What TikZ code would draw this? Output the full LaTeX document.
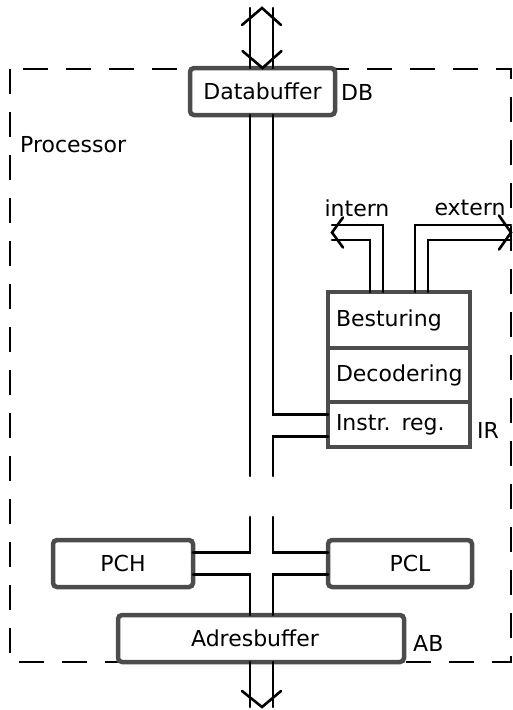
\documentclass[tikz,border=0pt]{standalone}
\usepackage{fontspec}
\setsansfont{DejaVu Sans}
\usetikzlibrary{calc, positioning}

\begin{document}
\begin{tikzpicture}[
    x=1pt, y=-1pt,
    font=\sffamily\fontsize{22}{26}\selectfont,
    wire/.style={line width=2.6pt, black, line cap=round},
    unit/.style={draw=black!70, line width=4.5pt, rounded corners=4pt, fill=white,
        inner sep=0pt, outer sep=0pt, minimum height=47pt},
    cell/.style={draw=black!70, line width=4.5pt, fill=white, inner xsep=8pt,
        inner ysep=0pt, outer sep=0pt, text width=126pt, align=left},
    frame/.style={line width=2.4pt, dash pattern=on 25pt off 18pt},
    tag/.style={anchor=west, inner sep=0pt},
]
\useasboundingbox (0,0) rectangle (512,710);

% --- processorgrens ---
\draw[frame] (10,69) rectangle (511,662);
\node[tag] (proc) at (20,145) {Processor};

% --- buffers en registers ---
\node[unit, minimum width=145pt] (db) at (262.5,91.5) {Databuffer};
\node[tag] (dbtag) at (341,92) {DB};

\node[cell, minimum height=56pt] (best) at (399,320) {Besturing};
\node[cell, minimum height=54pt, below=0pt of best] (dec) {Decodering};
\node[cell, minimum height=45pt, below=0pt of dec] (ir) {Instr. reg.};
\node[tag] (irtag) at (477,430) {IR};

\node[unit, minimum width=140pt] (pch) at (123,563.5) {PCH};
\node[unit, minimum width=144pt] (pcl) at (400,563.5) {\hspace*{20pt}PCL};

\node[unit, minimum width=286pt] (ab) at (261,638.5) {Adresbuffer\hspace*{12pt}};
\node[tag] (abtag) at (413,643) {AB};

% --- bus ---
\coordinate (bl) at (250,0);
\coordinate (br) at (273,0);
\coordinate (gapa) at (0,476);
\coordinate (gapb) at (0,517);
\coordinate (topend) at (262,8);
\coordinate (botend) at (262,707);

% databus naar buiten (twee richtingen)
\draw[wire] (bl |- topend) -- (db.north -| bl);
\draw[wire] (br |- topend) -- (db.north -| br);
\draw[wire] ($(topend)+(-20,17)$) -- (topend) -- ($(topend)+(19,17)$);
\draw[wire] ($(db.north)+(-20,-17)$) -- (db.north) -- ($(db.north)+(19,-17)$);

% intern bus met aftakking naar IR
\draw[wire] (db.south -| bl) -- (bl |- gapa);
\draw[wire] (db.south -| br) |- ($(ir.west)+(0,-10)$);
\draw[wire] ($(ir.west)+(0,12)$) -| (br |- gapa);

% PCH / PCL
\draw[wire] (bl |- gapb) |- ($(pch.east)+(0,-11)$);
\draw[wire] (br |- gapb) |- ($(pcl.west)+(0,-11)$);
\draw[wire] ($(pch.east)+(0,11)$) -| (ab.north -| bl);
\draw[wire] ($(pcl.west)+(0,11)$) -| (ab.north -| br);

% adresbus naar buiten
\draw[wire] (ab.south -| bl) -- (bl |- botend);
\draw[wire] (ab.south -| br) -- (br |- botend);
\draw[wire] ($(botend)+(-20,-16)$) -- (botend) -- ($(botend)+(19,-16)$);

% --- stuursignalen ---
\coordinate (inttip) at (332,232.5);
\coordinate (exttip) at (511,232.5);
\node (intern) at (357,208) {intern};
\node (extern) at (470,208) {extern};

\draw[wire] ($(best.north)+(-16,0)$) |- ($(inttip)+(0,-7.5)$);
\draw[wire] ($(best.north)+(-29,0)$) |- ($(inttip)+(0,7.5)$);
\draw[wire] ($(inttip)+(11,-15)$) -- (inttip) -- ($(inttip)+(11,15)$);

\draw[wire] ($(best.north)+(16,0)$) |- ($(exttip)+(0,-7.5)$);
\draw[wire] ($(best.north)+(29,0)$) |- ($(exttip)+(0,7.5)$);
\draw[wire] ($(exttip)+(-12,-17)$) -- (exttip) -- ($(exttip)+(-12,17)$);

\end{tikzpicture}
\end{document}
